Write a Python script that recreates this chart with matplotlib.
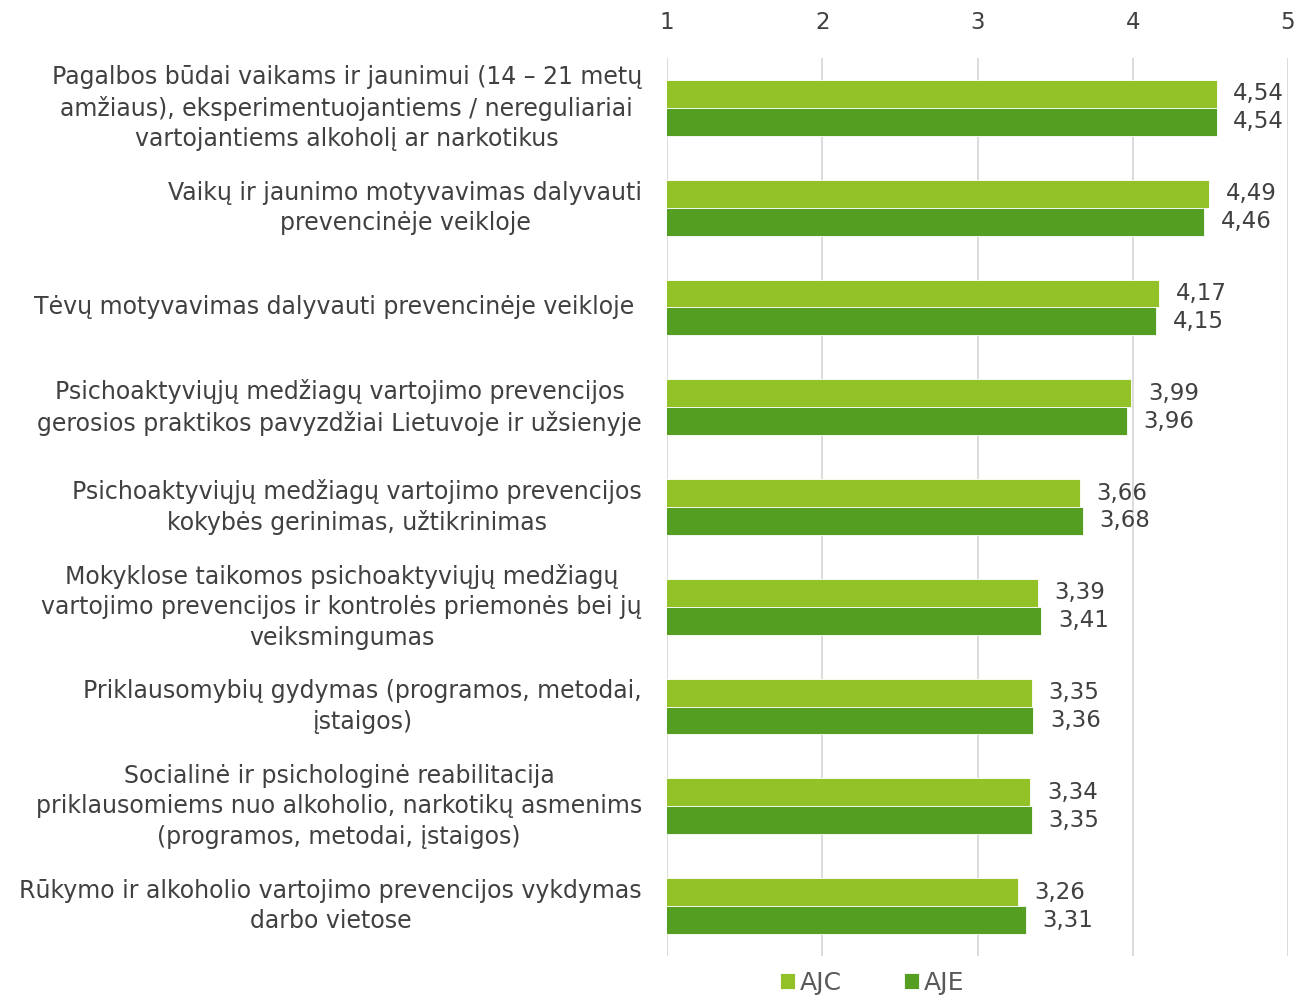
import numpy as np
import matplotlib.pyplot as plt

# duomenys
categories = [
    "Pagalbos būdai vaikams ir jaunimui (14 – 21 metų\namžiaus), eksperimentuojantiems / nereguliariai\nvartojantiems alkoholį ar narkotikus",
    "Vaikų ir jaunimo motyvavimas dalyvauti\nprevencinėje veikloje",
    "Tėvų motyvavimas dalyvauti prevencinėje veikloje ",
    "Psichoaktyviųjų medžiagų vartojimo prevencijos\ngerosios praktikos pavyzdžiai Lietuvoje ir užsienyje",
    "Psichoaktyviųjų medžiagų vartojimo prevencijos\nkokybės gerinimas, užtikrinimas",
    "Mokyklose taikomos psichoaktyviųjų medžiagų\nvartojimo prevencijos ir kontrolės priemonės bei jų\nveiksmingumas",
    "Priklausomybių gydymas (programos, metodai,\nįstaigos)",
    "Socialinė ir psichologinė reabilitacija\npriklausomiems nuo alkoholio, narkotikų asmenims\n(programos, metodai, įstaigos)",
    "Rūkymo ir alkoholio vartojimo prevencijos vykdymas\ndarbo vietose",
]
ajc = [4.54, 4.49, 4.17, 3.99, 3.66, 3.39, 3.35, 3.34, 3.26]
aje = [4.54, 4.46, 4.15, 3.96, 3.68, 3.41, 3.36, 3.35, 3.31]
xticks = [1, 2, 3, 4, 5]

c_ajc = '#92C128'
c_aje = '#549F22'
txt = '#404040'

plt.rcParams['font.family'] = ['DejaVu Sans']

fig = plt.figure(figsize=(13.11, 9.96), dpi=100)
ax = fig.add_axes([667 / 1311, 1 - 956 / 996, (1288 - 667) / 1311, (956 - 58) / 996])

y = np.arange(len(categories))
h = 0.28
b1 = ax.barh(y - h / 2, ajc, height=h, color=c_ajc, edgecolor='white', linewidth=0.6, label='AJC', zorder=3)
b2 = ax.barh(y + h / 2, aje, height=h, color=c_aje, edgecolor='white', linewidth=0.6, label='AJE', zorder=3)

for bars, vals in ((b1, ajc), (b2, aje)):
    for bar, v in zip(bars, vals):
        ax.annotate(f'{v:.2f}'.replace('.', ','),
                    (v, bar.get_y() + bar.get_height() / 2),
                    xytext=(12, 0), textcoords='offset points',
                    va='center', ha='left', fontsize=16.5, color=txt)

ax.set_xlim(1, 5)
ax.set_ylim(len(categories) - 0.5, -0.5)
ax.set_xticks(xticks)
ax.xaxis.tick_top()
ax.tick_params(axis='x', length=0, pad=17, labelsize=16.5, labelcolor=txt)
ax.set_yticks(y)
ax.set_yticklabels(categories, fontsize=17, color=txt, multialignment='center', linespacing=1.33)
for lbl in ax.get_yticklabels():
    lbl.set_va('center')
ax.tick_params(axis='y', length=0, pad=18)
ax.grid(axis='x', color='#D9D9D9', linewidth=1.3, zorder=0)
for s in ax.spines.values():
    s.set_visible(False)

fig.legend(handles=[b1, b2], labels=['AJC', 'AJE'], loc='center', bbox_to_anchor=(872 / 1311, 1 - 983 / 996),
           ncol=2, frameon=False, fontsize=18, labelcolor='#595959',
           handlelength=0.6, handleheight=0.6, handletextpad=0.2, columnspacing=2.5)

fig.savefig('out.png', dpi=100)
